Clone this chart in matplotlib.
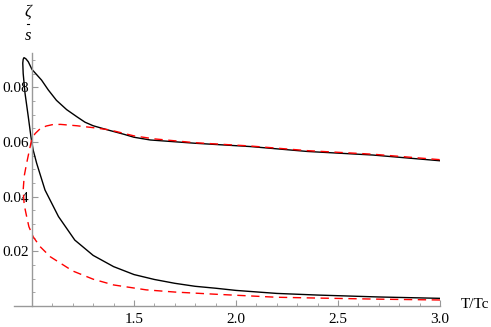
import matplotlib.pyplot as plt
from matplotlib.lines import Line2D
from matplotlib.ticker import MultipleLocator, FixedLocator

# black curve (one continuous path: lower branch -> loop near Tc -> upper branch)
black_t = [3.0, 2.7, 2.4, 2.2, 2.0, 1.9, 1.8, 1.7, 1.6, 1.5, 1.4, 1.3, 1.21, 1.13,
           1.064, 1.023, 1.006, 0.995, 0.982, 0.966, 0.957, 0.955, 0.957, 0.961, 0.970,
           0.982, 1.0, 1.047, 1.08, 1.12, 1.17, 1.22, 1.26, 1.30, 1.38, 1.45, 1.5, 1.58,
           1.8, 2.07, 2.35, 2.67, 3.0]
black_v = [0.0028, 0.0033, 0.0040, 0.0046, 0.0057, 0.0065, 0.0072, 0.0083, 0.0097,
           0.0115, 0.0144, 0.0185, 0.0241, 0.0327, 0.0424, 0.0522, 0.0570, 0.0619,
           0.0692, 0.0778, 0.0850, 0.0888, 0.0902, 0.0908, 0.0904, 0.0893, 0.0865,
           0.0826, 0.0790, 0.0752, 0.0718, 0.0692, 0.0672, 0.0659, 0.0642, 0.0628,
           0.0617, 0.0607, 0.0595, 0.0583, 0.0565, 0.0552, 0.0531]

# red dashed curve
red_t = [3.0, 2.7, 2.4, 2.2, 1.9, 1.7, 1.56, 1.4, 1.3, 1.2, 1.09, 1.04, 1.006, 0.985,
         0.974, 0.962, 0.957, 0.962, 0.974, 0.998, 1.015, 1.04, 1.07, 1.10, 1.14, 1.22,
         1.30, 1.38, 1.5, 1.6, 1.8, 2.07, 2.35, 2.67, 3.0]
red_v = [0.0022, 0.0025, 0.0029, 0.0032, 0.0043, 0.0051, 0.0059, 0.0077, 0.0098,
         0.0128, 0.0180, 0.0217, 0.0253, 0.0290, 0.0327, 0.0370, 0.0424, 0.0475,
         0.0522, 0.0607, 0.0630, 0.0648, 0.0658, 0.0663, 0.0664, 0.0659, 0.0652,
         0.0644, 0.0622, 0.0611, 0.0597, 0.0585, 0.0568, 0.0555, 0.0535]

x_ticks = [1.5, 2.0, 2.5, 3.0]
y_ticks = [0.02, 0.04, 0.06, 0.08]

plt.rcParams['font.family'] = ['Liberation Serif', 'DejaVu Serif']

fig = plt.figure(figsize=(4.91, 3.27), dpi=100)
ax = fig.add_axes([14 / 491, 21 / 327, 426 / 491, 253 / 327])

ax.plot(black_t, black_v, color='black', lw=1.0)
ax.plot(red_t, red_v, color='red', lw=1.0, dashes=(6, 4))

ax.set_xlim(0.912, 3.0)
ax.set_ylim(0, 0.0925)

ax.spines['top'].set_visible(False)
ax.spines['right'].set_visible(False)
ax.spines['left'].set_position(('data', 1.0))
ax.spines['bottom'].set_position(('data', 0.0))
for s in ['left', 'bottom']:
    ax.spines[s].set_color('#999999')
    ax.spines[s].set_linewidth(1.0)

ax.xaxis.set_major_locator(FixedLocator(x_ticks))
ax.xaxis.set_minor_locator(MultipleLocator(0.1))
ax.yaxis.set_major_locator(FixedLocator(y_ticks))
ax.yaxis.set_minor_locator(MultipleLocator(0.005))
ax.set_xticklabels([f"{t:.1f}" for t in x_ticks])
ax.set_yticklabels([f"{t:.2f}" for t in y_ticks])
ax.tick_params(which='both', direction='in', color='#999999', labelsize=11)
ax.tick_params(which='major', length=4.5)
ax.tick_params(which='minor', length=2.5)
ax.tick_params(axis='x', pad=5)
ax.tick_params(axis='y', pad=2)

fig.text(461 / 491, 1 - 305 / 327, "T/Tc", fontsize=11, va='center', ha='left')
fig.text(28 / 491, 1 - 12 / 327, "ζ", fontsize=12, style='italic', va='center', ha='center')
fig.add_artist(Line2D([27 / 491, 29 / 491], [1 - 23.5 / 327, 1 - 23.5 / 327],
                      color='black', lw=0.8, transform=fig.transFigure))
fig.text(28 / 491, 1 - 36 / 327, "s", fontsize=12, style='italic', va='center', ha='center')

fig.savefig('out.png', dpi=100)
